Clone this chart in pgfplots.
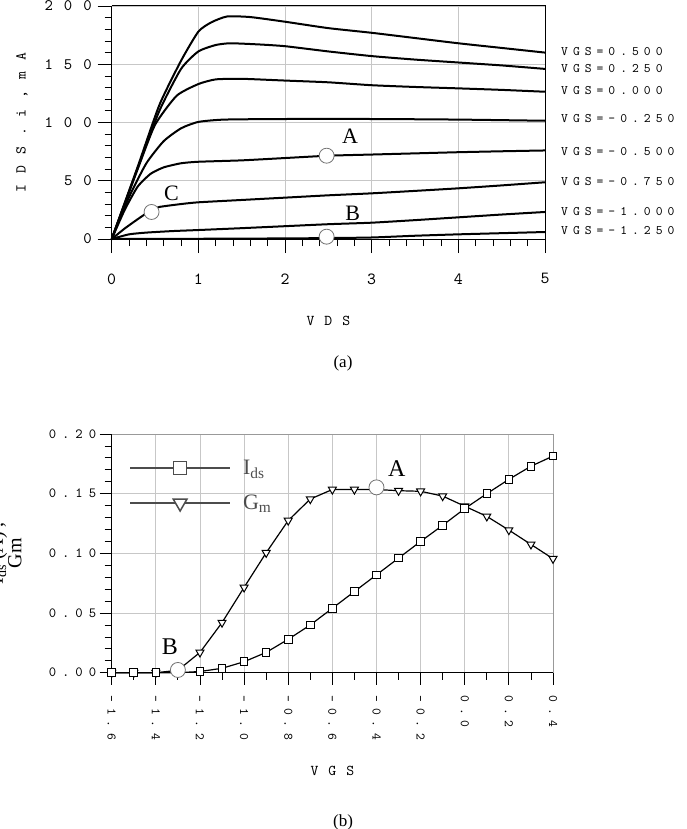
\documentclass[border=0pt]{standalone}
\usepackage{fontspec}
\setmainfont{Liberation Serif}
\newfontfamily\plotfont{lmmono10-regular.otf}
\usepackage{pgfplots}
\pgfplotsset{compat=1.18}
\usetikzlibrary{calc}
% spaced typewriter lettering used on the axes
\makeatletter
\newcommand\spc[2]{{\def\sp@gap{#1}\sp@a#2\@nil}}
\def\sp@a#1#2\@nil{#1\ifx\relax#2\relax\else\kern\sp@gap\relax\sp@a#2\@nil\fi}
\makeatother
\newcommand\pf[1]{\fontsize{#1}{#1}\selectfont\plotfont}
\newcommand\tf[1]{\fontsize{#1}{#1}\selectfont}
% long legend sample with the marker in its middle
\pgfplotsset{longlegend/.style={legend image code/.code={%
  \draw[mark repeat=2,mark phase=2,##1] plot coordinates {(0pt,0pt) (50pt,0pt) (100pt,0pt)};}}}

\begin{document}
\begin{tikzpicture}
\useasboundingbox (0,0) rectangle (686pt,-829pt);

% ---------------- (a) output characteristics ----------------
\begin{axis}[
  at={(111.7pt,-239pt)}, anchor=south west,
  scale only axis, width=433.3pt, height=233pt,
  xmin=0, xmax=5, ymin=0, ymax=200,
  xtick={0,1,2,3,4,5}, ytick={0,50,100,150,200},
  xticklabels={0,1,2,3,4,5},
  yticklabels={},
  minor x tick num=4, minor y tick num=4,
  axis x line*=bottom, axis y line*=left,
  tick align=outside,
  major tick length=14pt, minor tick length=7pt,
  tick style={black, line width=0.8pt},
  grid=major, major grid style={black!22, line width=0.8pt},
  axis line style={black, line width=1pt, -},
  xticklabel style={font=\pf{17}},
  xticklabel shift=17pt,
  xlabel={\spc{10pt}{VDS}}, xlabel style={font=\pf{15}, at={(rel axis cs:0.5,0)}, anchor=center, yshift=-82pt},
  clip=false,
]
\draw[black, line width=1pt] (rel axis cs:0,1) -- (rel axis cs:1,1) -- (rel axis cs:1,0);
% value labels of the current axis and its title
\begin{scope}[every node/.style={anchor=east, font=\pf{16}, inner sep=0pt}]
\node at ($(axis cs:0,0)+(-19.7pt,0)$) {\spc{11pt}{0}};
\node at ($(axis cs:0,50)+(-19.7pt,0)$) {\spc{11pt}{50}};
\node at ($(axis cs:0,100)+(-19.7pt,0)$) {\spc{11pt}{100}};
\node at ($(axis cs:0,150)+(-19.7pt,0)$) {\spc{11pt}{150}};
\node at ($(axis cs:0,200)+(-19.7pt,0)$) {\spc{11pt}{200}};
\end{scope}
\node[font=\pf{15}, rotate=90, anchor=center] at ($(rel axis cs:0,0.5)+(-89.7pt,0)$) {\spc{11pt}{IDS.i,mA}};
% VGS = 0.500
\addplot[black, line width=2pt, smooth, tension=0.35] coordinates {
(0,0) (0.3,62) (0.55,115) (0.8,153) (1,178) (1.15,186) (1.33,191) (1.6,190.5)
(2,186.5) (2.5,181) (3,177) (3.5,172.5) (4,168) (4.5,164) (5,160)};
% VGS = 0.250
\addplot[black, line width=2pt, smooth, tension=0.35] coordinates {
(0,0) (0.3,61) (0.55,110) (0.8,146) (1,161) (1.2,166.5) (1.37,168) (1.7,167)
(2,165.5) (2.5,161) (3,157) (3.5,154) (4,151.5) (4.5,149) (5,146)};
% VGS = 0.000
\addplot[black, line width=2pt, smooth, tension=0.35] coordinates {
(0,0) (0.3,60) (0.5,98) (0.75,123) (1,133) (1.2,137) (1.5,137.5) (2,136)
(2.5,134.5) (3,132) (3.5,130.5) (4,129.3) (4.5,128) (5,126.4)};
% VGS = -0.250
\addplot[black, line width=2pt, smooth, tension=0.35] coordinates {
(0,0) (0.2,36) (0.4,65) (0.6,84) (0.8,95) (1,100.5) (1.3,102.5) (2,103)
(3,103) (4,102.5) (5,101.5)};
% VGS = -0.500
\addplot[black, line width=2pt, smooth, tension=0.35] coordinates {
(0,0) (0.15,25) (0.3,45) (0.45,56) (0.6,61.5) (0.8,65) (1,66.3) (1.5,67.5)
(2,69.5) (2.5,71.5) (3,72.5) (3.5,73.5) (4,74.5) (4.5,75.3) (5,76)};
% VGS = -0.750
\addplot[black, line width=2pt, smooth, tension=0.35] coordinates {
(0,0) (0.15,9) (0.3,17) (0.45,24.5) (0.55,27.5) (0.8,30) (1,31.5) (1.5,33.5)
(2,35.5) (2.5,37.5) (3,39.2) (3.5,41.3) (4,43.5) (4.5,46) (5,48.7)};
% VGS = -1.000
\addplot[black, line width=2pt, smooth, tension=0.35] coordinates {
(0,0) (0.2,4) (0.4,5.5) (0.7,6.8) (1,7.7) (1.5,9.3) (2,11) (2.5,12.7)
(3,14) (3.5,16.2) (4,18.6) (4.5,21) (5,23.2)};
% VGS = -1.250
\addplot[black, line width=2pt, smooth, tension=0.35] coordinates {
(0,0) (1,0.2) (2,0.5) (2.5,0.8) (3,1.3) (3.5,2.8) (4,4) (4.5,5) (5,6)};
% bias points
\addplot[only marks, mark=*, mark size=7.5pt, mark options={fill=white, draw=black!55, line width=0.8pt}]
  coordinates {(2.48,71.5) (0.46,23.2) (2.48,2.0)};
\node[font=\tf{22}] at (axis cs:2.75,87.8) {A};
\node[font=\tf{22}] at (axis cs:0.69,39) {C};
\node[font=\tf{22}] at (axis cs:2.78,22) {B};
% curve labels
\begin{scope}[every node/.style={anchor=west, font=\pf{13}, xshift=16pt, inner sep=0pt}]
\node at (axis cs:5,160.5) {\spc{5pt}{VGS=0.500}};
\node at (axis cs:5,146) {\spc{5pt}{VGS=0.250}};
\node at (axis cs:5,127.5) {\spc{5pt}{VGS=0.000}};
\node at (axis cs:5,103) {\spc{5pt}{VGS=-0.250}};
\node at (axis cs:5,75.5) {\spc{5pt}{VGS=-0.500}};
\node at (axis cs:5,49) {\spc{5pt}{VGS=-0.750}};
\node at (axis cs:5,24) {\spc{5pt}{VGS=-1.000}};
\node at (axis cs:5,7.7) {\spc{5pt}{VGS=-1.250}};
\end{scope}
\end{axis}

\node[font=\tf{17}] at (343pt,-363pt) {(a)};

% ---------------- (b) transfer characteristics ----------------
\begin{axis}[
  at={(111.7pt,-672.7pt)}, anchor=south west,
  scale only axis, width=441.3pt, height=238.7pt,
  xmin=-1.6, xmax=0.4, ymin=0, ymax=0.2,
  xtick={-1.6,-1.4,-1.2,-1.0,-0.8,-0.6,-0.4,-0.2,0.0,0.2,0.4},
  xticklabels={\spc{6pt}{-1.6},\spc{6pt}{-1.4},\spc{6pt}{-1.2},\spc{6pt}{-1.0},\spc{6pt}{-0.8},
    \spc{6pt}{-0.6},\spc{6pt}{-0.4},\spc{6pt}{-0.2},\spc{6pt}{0.0},\spc{6pt}{0.2},\spc{6pt}{0.4}},
  ytick={0,0.05,0.1,0.15,0.2},
  yticklabels={\spc{6pt}{0.00},\spc{6pt}{0.05},\spc{6pt}{0.10},\spc{6pt}{0.15},\spc{6pt}{0.20}},
  minor x tick num=1, minor y tick num=4,
  axis x line*=bottom, axis y line*=left,
  tick align=outside,
  major tick length=12pt, minor tick length=7pt,
  tick style={black, line width=0.8pt},
  grid=major, major grid style={black!22, line width=0.8pt},
  axis line style={black, line width=1pt, -},
  xticklabel style={font=\pf{13}, rotate=-90, anchor=west},
  xticklabel shift=7pt,
  yticklabel style={font=\pf{14}},
  xlabel={\spc{10pt}{VGS}}, xlabel style={font=\pf{15}, at={(rel axis cs:0.5,0)}, anchor=center, yshift=-98pt},
  ylabel={I$_{\mathrm{ds}}$ (A) ,\\Gm},
  ylabel style={font=\fontsize{20}{17}\selectfont, align=center, at={(rel axis cs:-0.241,0.5)}, anchor=center},
  legend style={draw=none, fill=none, at={(rel axis cs:0.039,0.90)}, anchor=north west,
    inner sep=0pt, row sep=15pt, font=\tf{22}, text=black!70},
  legend cell align=left,
  clip=false,
]
\draw[black!40, line width=0.8pt] (rel axis cs:0,1) -- (rel axis cs:1,1) -- (rel axis cs:1,0);
\addlegendimage{longlegend, black!70, line width=2pt, mark=square*, mark size=6.5pt, mark options={fill=white, line width=1.5pt}}
\addlegendentry{\hspace{10pt}I$_{\mathrm{ds}}$}
\addlegendimage{longlegend, black!70, line width=2pt, mark=triangle*, mark size=8pt, mark options={fill=white, line width=1.5pt, rotate=180}}
\addlegendentry{\hspace{10pt}G$_{\mathrm{m}}$}
% transconductance
\addplot[black, line width=1.2pt, mark=triangle*, mark size=4.6pt, mark options={fill=white, line width=1pt, rotate=180}] coordinates {
(-1.6,0) (-1.5,0) (-1.4,0) (-1.3,0.002) (-1.2,0.017) (-1.1,0.042) (-1.0,0.0715)
(-0.9,0.1005) (-0.8,0.1275) (-0.7,0.1455) (-0.6,0.1535) (-0.5,0.1535) (-0.4,0.1535)
(-0.3,0.1525) (-0.2,0.152) (-0.1,0.148) (0.0,0.1395) (0.1,0.131) (0.2,0.1195)
(0.3,0.1075) (0.4,0.0955)};
% drain current
\addplot[black, line width=1.2pt, mark=square*, mark size=3.8pt, mark options={fill=white, line width=1pt}] coordinates {
(-1.6,0) (-1.5,0) (-1.4,0) (-1.3,0) (-1.2,0.001) (-1.1,0.0037) (-1.0,0.0092)
(-0.9,0.017) (-0.8,0.028) (-0.7,0.040) (-0.6,0.054) (-0.5,0.068) (-0.4,0.082)
(-0.3,0.096) (-0.2,0.110) (-0.1,0.1235) (0.0,0.1375) (0.1,0.150) (0.2,0.162)
(0.3,0.173) (0.4,0.1815)};
% bias points
\addplot[only marks, mark=*, mark size=7.5pt, mark options={fill=white, draw=black!55, line width=0.8pt}]
  coordinates {(-1.3,0.0023) (-0.4,0.1553)};
\node[font=\tf{24}] at (axis cs:-1.336,0.0218) {B};
\node[font=\tf{24}] at (axis cs:-0.308,0.1713) {A};
\end{axis}

\node[font=\tf{17}] at (343pt,-822pt) {(b)};
\end{tikzpicture}
\end{document}
